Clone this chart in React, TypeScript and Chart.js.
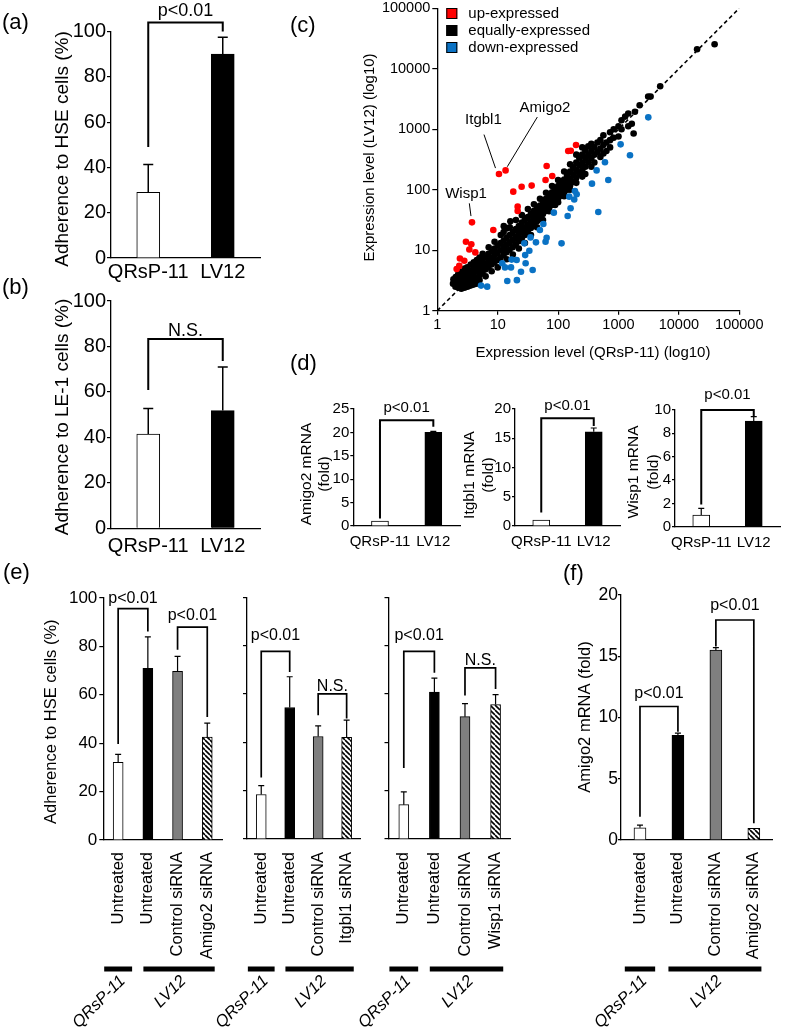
import React, { useEffect, useRef } from 'react';
import { Chart, registerables } from 'chart.js';

Chart.register(...registerables);

const FONT = "'Liberation Sans', Arial, Helvetica, sans-serif";
Chart.defaults.font.family = FONT;
Chart.defaults.color = '#000';

// ================= DATA =================
const cellLines = ['QRsP-11', 'LV12'];

// (a) adherence to HSE cells (%)
const adhesionHSE = [29, 90];
const adhesionHSEErr = [12.3, 7.5];
// (b) adherence to LE-1 cells (%)
const adhesionLE1 = [41.5, 51.8];
const adhesionLE1Err = [11.2, 19.2];

// (d) qPCR fold changes
const amigo2Fold = [1.07, 20.0];
const amigo2FoldErr = [0, 0.2];
const itgbl1Fold = [1.03, 16.1];
const itgbl1FoldErr = [0, 0.65];
const wisp1Fold = [1.0, 9.05];
const wisp1FoldErr = [0.57, 0.38];

// (e) siRNA adherence
const siAmigo2Labels = ['Untreated', 'Untreated', 'Control siRNA', 'Amigo2 siRNA'];
const siItgbl1Labels = ['Untreated', 'Untreated', 'Control siRNA', 'Itgbl1 siRNA'];
const siWisp1Labels = ['Untreated', 'Untreated', 'Control siRNA', 'Wisp1 siRNA'];
const siAmigo2Adh = [32.1, 70.9, 69.7, 42.5];
const siAmigo2AdhErr = [3.3, 13, 6.2, 5.8];
const siItgbl1Adh = [18.4, 54.4, 42.4, 42];
const siItgbl1AdhErr = [3.7, 12.7, 4.4, 7.2];
const siWisp1Adh = [14.2, 60.8, 50.6, 55.6];
const siWisp1AdhErr = [5.3, 5.7, 5.4, 4.1];

// (f) Amigo2 mRNA after siRNA
const siAmigo2mRNA = [1.0, 8.55, 15.5, 0.95];
const siAmigo2mRNAErr = [0.22, 0.18, 0.2, 0];

// significance brackets (values in axis units)
const bracketsA = [{ from: 0, to: 1, top: 104, leftEnd: 49, rightEnd: 100, text: 'p<0.01' }];
const bracketsB = [{ from: 0, to: 1, top: 83.3, leftEnd: 60.8, rightEnd: 73.6, text: 'N.S.' }];
const bracketsD1 = [{ from: 0, to: 1, top: 22.6, leftEnd: 1.6, rightEnd: 21.2, text: 'p<0.01' }];
const bracketsD2 = [{ from: 0, to: 1, top: 18.4, leftEnd: 2.3, rightEnd: 17.1, text: 'p<0.01' }];
const bracketsD3 = [{ from: 0, to: 1, top: 10.0, leftEnd: 1.9, rightEnd: 9.4, text: 'p<0.01' }];
const bracketsE1 = [
  { from: 0, to: 1, top: 95.6, leftEnd: 39.7, rightEnd: 86.2, text: 'p<0.01' },
  { from: 2, to: 3, top: 88, leftEnd: 78.6, rightEnd: 50.8, text: 'p<0.01' },
];
const bracketsE2 = [
  { from: 0, to: 1, top: 77.6, leftEnd: 25.4, rightEnd: 69.1, text: 'p<0.01' },
  { from: 2, to: 3, top: 60, leftEnd: 51.2, rightEnd: 49.8, text: 'N.S.' },
];
const bracketsE3 = [
  { from: 0, to: 1, top: 77.6, leftEnd: 29.4, rightEnd: 68.8, text: 'p<0.01' },
  { from: 2, to: 3, top: 70.8, leftEnd: 59.3, rightEnd: 62, text: 'N.S.' },
];
const bracketsF = [
  { from: 0, to: 1, top: 10.9, leftEnd: 1.9, rightEnd: 8.84, text: 'p<0.01' },
  { from: 2, to: 3, top: 17.96, leftEnd: 15.8, rightEnd: 1.36, text: 'p<0.01' },
];

// (c) scatter: [QRsP-11, LV12] expression levels
const decadeTicks = [1, 10, 100, 1000, 10000, 100000];
const upExpressed = [
  [10.5, 182], [13.5, 209], [3.75, 28.9], [198, 549], [147, 437], [162, 440], [64.6, 247], [80, 169],
  [62, 145], [36.5, 117], [24.9, 112], [18.1, 93], [21.4, 52.5], [21.4, 44.5], [8.46, 21.6], [2.98, 13.8],
  [3.66, 12.5], [3.39, 10.3], [4.26, 9.2], [2.37, 7.3], [2.8, 6.7], [2.09, 4.9], [2.31, 5.5],
];
const downExpressed = [
  [3113, 1575], [1084, 563], [1549, 371], [597, 284], [434, 209], [678, 145], [364, 126], [463, 42.8],
  [190, 95], [203, 84], [153, 76.8], [185, 69], [161, 49.3], [144, 36.8], [85, 41.8], [57, 27.1],
  [50, 21.6], [64.6, 16.1], [62, 13.8], [114, 13], [43, 13.5], [35, 16.3], [33.4, 9.8], [27.6, 13],
  [28.5, 8.3], [29, 6.1], [20.6, 6.9], [17, 7], [24.3, 4.4], [37.9, 4.7], [16.6, 5.2], [13.2, 5.2],
  [11.9, 6.1], [14.4, 3.1], [20.8, 3.2], [5.3, 2.6], [6.7, 2.5],
];
const equallyExpressed = [
  [1.82, 2.8], [1.85, 3.3], [2.0, 2.5], [1.98, 3.0], [2.02, 3.6],
  [2.24, 2.4], [2.2, 2.85], [2.26, 3.4], [2.22, 4.0],
  [2.5, 2.3], [2.55, 2.75], [2.48, 3.2], [2.52, 3.8], [2.5, 4.4],
  [2.82, 2.4], [2.8, 2.9], [2.86, 3.5], [2.78, 4.2], [2.84, 5.0],
  [3.16, 2.5], [3.2, 3.0], [3.1, 3.6], [3.18, 4.4], [3.14, 5.2],
  [3.55, 2.6], [3.5, 3.2], [3.6, 3.8], [3.52, 4.6], [3.58, 5.8],
  [3.98, 2.7], [4.05, 3.3], [3.95, 4.1], [4.0, 5.0], [4.02, 6.3],
  [4.47, 2.8], [4.4, 3.5], [4.5, 4.4], [4.45, 5.5], [4.52, 6.9],
  [5.0, 3.2], [5.05, 3.9], [4.95, 4.8], [5.02, 6.0], [5.0, 7.6],
  [5.6, 4.4], [5.66, 5.5], [5.58, 6.9], [5.64, 8.7],
  [6.31, 3.7], [6.25, 4.8], [6.35, 6.0], [6.3, 7.6],
  [7.0, 5.2], [7.12, 6.8], [7.05, 8.7], [7.1, 11.2],
  [7.94, 4.5], [7.9, 5.8], [8.0, 7.4], [7.96, 9.5],
  [8.85, 6.3], [8.95, 8.3], [8.9, 10.7], [8.88, 13.8],
  [10, 5.2], [10.1, 6.9], [9.9, 9.1], [10.05, 12],
  [11.1, 7.6], [11.3, 10], [11.2, 13.2], [11.25, 17.8],
  [12.5, 8.3], [12.7, 11], [12.6, 14.5], [12.55, 20], [12.6, 25],
  [14.1, 7.1], [14.0, 9.3], [14.2, 12.3], [14.1, 16.2], [14.4, 23],
  [15.7, 10.2], [15.9, 13.5], [15.8, 17.8], [15.85, 24], [16.2, 30],
  [17.8, 8.5], [17.7, 11.2], [17.9, 14.8], [17.8, 20],
  [19.9, 12.3], [20.1, 16.6], [20, 22.4], [20.05, 31.6],
  [22.4, 10.7], [22.3, 14.1], [22.5, 19], [22.4, 25],
  [25, 15.8], [25.2, 21.4], [25.1, 28.8], [25.15, 38],
  [28.2, 13.2], [28.1, 17.8], [28.3, 24], [28.2, 31.6],
  [31.5, 20], [31.7, 26.3], [31.6, 35.5], [31.65, 47.9],
  [35.5, 17.8], [35.4, 23.4], [35.6, 30.2], [35.5, 39.8],
  [39.7, 26.3], [39.9, 33.9], [39.8, 44.7], [39.85, 57.5],
  [44.7, 24], [44.6, 30.2], [44.8, 38], [44.7, 49],
  [50, 34.7], [50.2, 43.7], [50.1, 55], [50.15, 70.8],
  [56.2, 31.6], [56.1, 39.8], [56.3, 50], [56.2, 63],
  [63, 44.7], [63.2, 56.2], [63.1, 70.8], [63.15, 89],
  [70.8, 44], [70.7, 50], [70.9, 63], [70.8, 79.4],
  [79.3, 56.2], [79.5, 72.4], [79.4, 91], [79.45, 115],
  [89.1, 56], [89, 63], [89.2, 79.4], [89.1, 100],
  [100, 62], [99.8, 70.8], [100.2, 91], [100, 115], [100.1, 145],
  [111.8, 79.4], [112.2, 100], [112, 129],
  [126, 78], [125.8, 89], [126.2, 115], [126, 148], [126.1, 200],
  [140.8, 100], [141.2, 132], [141, 174],
  [158, 100], [157.8, 117], [158.2, 151], [158, 200], [158.1, 263],
  [177.8, 135], [178.2, 178], [178, 234],
  [200, 130], [199.8, 158], [200.2, 209], [200, 282], [200.1, 380],
  [223.8, 186], [224.2, 251], [224, 339],
  [251, 165], [250.8, 209], [251.2, 282], [251, 380], [251.1, 501],
  [282, 182], [281.8, 240], [282.2, 331], [282, 447],
  [315.8, 282], [316.2, 380], [316, 525],
  [355, 240], [354.8, 331], [355.2, 437], [355, 575],
  [398, 282], [397.8, 380], [398.2, 501],
  [446.8, 417], [447.2, 603],
  [501, 347], [500.8, 479], [501.2, 661],
  [562, 398], [561.8, 550], [562.2, 794],
  [631, 437], [630.8, 603],
  [725, 501], [724.8, 661], [725.2, 891],
  [832, 724], [831.8, 1000],
  [1000, 759], [999.8, 1122],
  [1122, 1000], [1121.8, 1413],
  [1290, 1620], [1450, 1820], [1450, 1122], [1660, 1230], [1780, 850], [1870, 1950],
  [2240, 2500], [3100, 3470], [3400, 3470], [4900, 5130], [20000, 21000], [39000, 25500],
];
const identityLine = [[1, 1], [100000, 100000]];
const geneNotes = [
  { name: 'Itgbl1', at: [5.8, 1445], from: [5.93, 817], to: [9.2, 228] },
  { name: 'Amigo2', at: [60.7, 2245], from: [45.3, 1592], to: [14.4, 240] },
  { name: 'Wisp1', at: [2.99, 85], from: [3.39, 59.6], to: [3.61, 36.7] },
];

// ================= LAYOUT =================
const RED = '#ff0000';
const BLUE = '#0a72c4';
const GRAY = '#7f7f7f';

type TextItem = { text: string; x: number; y: number; size: number; rotate?: boolean };

function drawText(ctx: any, t: TextItem, ox: number, oy: number) {
  ctx.save();
  ctx.font = `${t.size}px ${FONT}`;
  ctx.fillStyle = '#000';
  ctx.textAlign = 'center';
  ctx.textBaseline = 'middle';
  ctx.translate(t.x - ox, t.y - oy);
  if (t.rotate) ctx.rotate(-Math.PI / 2);
  ctx.fillText(t.text, 0, 0);
  ctx.restore();
}

const barPanels: any[] = [
  {
    canvas: [0, 0, 275, 295], area: [111, 31.5, 260, 258],
    labels: cellLines, values: adhesionHSE, errors: adhesionHSEErr, fills: ['white', 'black'],
    yMax: 100, yStep: 20, showY: true, tickSize: 20, tickLen: 4, tickPad: 1,
    catSize: 20, catPad: 2, rotate: false, barThickness: 23, cap: 5, errWidth: 1.5,
    brackets: bracketsA, gaps: [6.5], bracketSize: 18, bracketWidth: 2,
    titles: [{ text: 'Adherence to HSE cells (%)', x: 63, y: 149, size: 19, rotate: true }],
  },
  {
    canvas: [0, 280, 275, 565], area: [111, 301, 260, 528.3],
    labels: cellLines, values: adhesionLE1, errors: adhesionLE1Err, fills: ['white', 'black'],
    yMax: 100, yStep: 20, showY: true, tickSize: 20, tickLen: 4, tickPad: 1,
    catSize: 20, catPad: 6, rotate: false, barThickness: 23, cap: 5, errWidth: 1.5,
    brackets: bracketsB, gaps: [2.6], bracketSize: 18, bracketWidth: 2,
    titles: [{ text: 'Adherence to LE-1 cells (%)', x: 63, y: 417, size: 19, rotate: true }],
  },
  {
    canvas: [290, 385, 465, 565], area: [353.3, 409, 460, 526],
    labels: cellLines, values: amigo2Fold, errors: amigo2FoldErr, fills: ['white', 'black'],
    yMax: 25, yStep: 5, showY: true, tickSize: 15, tickLen: 3, tickPad: 1,
    catSize: 15, catPad: 7, rotate: false, barThickness: 17, cap: 3, errWidth: 1.2,
    brackets: bracketsD1, gaps: [8], bracketSize: 15, bracketWidth: 2,
    titles: [
      { text: 'Amigo2 mRNA', x: 306.7, y: 474, size: 15.5, rotate: true },
      { text: '(fold)', x: 325, y: 474, size: 15.5, rotate: true },
    ],
  },
  {
    canvas: [455, 385, 625, 565], area: [515, 409, 620, 526],
    labels: cellLines, values: itgbl1Fold, errors: itgbl1FoldErr, fills: ['white', 'black'],
    yMax: 20, yStep: 5, showY: true, tickSize: 15, tickLen: 3, tickPad: 1,
    catSize: 15, catPad: 7, rotate: false, barThickness: 17, cap: 3, errWidth: 1.2,
    brackets: bracketsD2, gaps: [8.8], bracketSize: 15, bracketWidth: 2,
    titles: [
      { text: 'Itgbl1 mRNA', x: 470, y: 475, size: 15.5, rotate: true },
      { text: '(fold)', x: 488.3, y: 475, size: 15.5, rotate: true },
    ],
  },
  {
    canvas: [620, 380, 787, 565], area: [675, 410, 780, 526.7],
    labels: cellLines, values: wisp1Fold, errors: wisp1FoldErr, fills: ['white', 'black'],
    yMax: 10, yStep: 2, showY: true, tickSize: 15, tickLen: 3, tickPad: 1,
    catSize: 15, catPad: 7, rotate: false, barThickness: 17, cap: 3, errWidth: 1.2,
    brackets: bracketsD3, gaps: [10.8], bracketSize: 15, bracketWidth: 2,
    titles: [
      { text: 'Wisp1 mRNA', x: 633.3, y: 472, size: 15.5, rotate: true },
      { text: '(fold)', x: 653.3, y: 472, size: 15.5, rotate: true },
    ],
  },
  {
    canvas: [0, 585, 240, 1031], area: [103.3, 598, 232.5, 840],
    labels: siAmigo2Labels, values: siAmigo2Adh, errors: siAmigo2AdhErr, fills: ['white', 'black', 'gray', 'hatch'],
    yMax: 100, yStep: 20, showY: true, tickSize: 17, tickLen: 4, tickPad: 2,
    catSize: 16.5, catPad: 12, rotate: true, barThickness: 10, cap: 3, errWidth: 1.2,
    brackets: bracketsE1, gaps: [5.4, 7.3], bracketSize: 16, bracketWidth: 1.7,
    titles: [{ text: 'Adherence to HSE cells (%)', x: 51.7, y: 721.7, size: 16.5, rotate: true }],
    groups: { y: 969, spans: [[-0.47, 0.47], [0.85, 3.25]] },
  },
  {
    canvas: [200, 585, 380, 1031], area: [247, 593, 375.5, 839],
    labels: siItgbl1Labels, values: siItgbl1Adh, errors: siItgbl1AdhErr, fills: ['white', 'black', 'gray', 'hatch'],
    yMax: 100, yStep: 20, showY: false, tickSize: 17, tickLen: 4, tickPad: 2,
    catSize: 16.5, catPad: 13, rotate: true, barThickness: 10, cap: 3, errWidth: 1.2,
    brackets: bracketsE2, gaps: [11.7, 3.4], bracketSize: 16, bracketWidth: 1.7,
    titles: [],
    groups: { y: 969, spans: [[-0.47, 0.47], [0.85, 3.25]] },
  },
  {
    canvas: [340, 585, 530, 1031], area: [388.5, 593, 517, 839],
    labels: siWisp1Labels, values: siWisp1Adh, errors: siWisp1AdhErr, fills: ['white', 'black', 'gray', 'hatch'],
    yMax: 100, yStep: 20, showY: false, tickSize: 17, tickLen: 4, tickPad: 2,
    catSize: 16.5, catPad: 13, rotate: true, barThickness: 10, cap: 3, errWidth: 1.2,
    brackets: bracketsE3, gaps: [11.7, 3.3], bracketSize: 16, bracketWidth: 1.7,
    titles: [],
    groups: { y: 969, spans: [[-0.47, 0.47], [0.85, 3.25]] },
  },
  {
    canvas: [560, 560, 787, 1031], area: [621, 595, 776, 840],
    labels: siAmigo2Labels, values: siAmigo2mRNA, errors: siAmigo2mRNAErr, fills: ['white', 'black', 'gray', 'hatch'],
    yMax: 20, yStep: 5, showY: true, tickSize: 17.5, tickLen: 3, tickPad: 0,
    catSize: 16.5, catPad: 12, rotate: true, barThickness: 12, cap: 3, errWidth: 1.2,
    brackets: bracketsF, gaps: [8.4, 10.4], bracketSize: 16, bracketWidth: 1.7,
    titles: [{ text: 'Amigo2 mRNA (fold)', x: 585, y: 717, size: 16.5, rotate: true }],
    groups: { y: 969, spans: [[-0.4, 0.4], [0.75, 3.2]] },
  },
];

const scatterLayout = { canvas: [290, -10, 787, 372], area: [437.3, 8.3, 739.3, 310.7] };

const panelLetters = [
  { text: '(a)', x: 2, y: 10.5 },
  { text: '(b)', x: 2, y: 275.5 },
  { text: '(c)', x: 290, y: 14 },
  { text: '(d)', x: 290, y: 352 },
  { text: '(e)', x: 3, y: 560.5 },
  { text: '(f)', x: 563, y: 562 },
];

function makeHatch(): any {
  const c = document.createElement('canvas');
  c.width = 5; c.height = 5;
  const g = c.getContext('2d')!;
  g.fillStyle = '#fff';
  g.fillRect(0, 0, 5, 5);
  g.strokeStyle = '#000';
  g.lineWidth = 1.6;
  g.beginPath();
  for (const k of [-5, 0, 5]) { g.moveTo(k, 0); g.lineTo(k + 5, 5); }
  g.stroke();
  return g.createPattern(c, 'repeat');
}

function barExtras(s: any) {
  return {
    id: 'barExtras',
    afterDraw(chart: any) {
      const ctx = chart.ctx;
      const xs = chart.scales.x, ys = chart.scales.y;
      const ox = s.canvas[0], oy = s.canvas[1];
      ctx.save();
      ctx.strokeStyle = '#000';
      ctx.fillStyle = '#000';
      // error bars (upper whisker)
      ctx.lineWidth = s.errWidth;
      s.values.forEach((v: number, i: number) => {
        const e = s.errors[i];
        if (!e) return;
        const px = xs.getPixelForValue(i);
        const y0 = ys.getPixelForValue(v), y1 = ys.getPixelForValue(v + e);
        ctx.beginPath();
        ctx.moveTo(px, y0); ctx.lineTo(px, y1);
        ctx.moveTo(px - s.cap, y1); ctx.lineTo(px + s.cap, y1);
        ctx.stroke();
      });
      // brackets
      ctx.lineWidth = s.bracketWidth;
      ctx.lineJoin = 'miter';
      ctx.font = `${s.bracketSize}px ${FONT}`;
      ctx.textAlign = 'center';
      ctx.textBaseline = 'alphabetic';
      s.brackets.forEach((b: any, k: number) => {
        const xl = xs.getPixelForValue(b.from), xr = xs.getPixelForValue(b.to);
        const yt = ys.getPixelForValue(b.top);
        ctx.beginPath();
        ctx.moveTo(xl, ys.getPixelForValue(b.leftEnd));
        ctx.lineTo(xl, yt);
        ctx.lineTo(xr, yt);
        ctx.lineTo(xr, ys.getPixelForValue(b.rightEnd));
        ctx.stroke();
        ctx.fillText(b.text, (xl + xr) / 2, yt - s.gaps[k]);
      });
      // axis titles
      s.titles.forEach((t: TextItem) => drawText(ctx, t, ox, oy));
      // cell-line group bars
      if (s.groups) {
        const gy = s.groups.y - oy;
        s.groups.spans.forEach((sp: number[], k: number) => {
          const xa = xs.getPixelForValue(sp[0]), xb = xs.getPixelForValue(sp[1]);
          ctx.fillRect(xa, gy - 2.5, xb - xa, 5);
          const cx = (xa + xb) / 2;
          ctx.save();
          ctx.font = `italic 16.5px ${FONT}`;
          ctx.textAlign = 'right';
          ctx.textBaseline = 'middle';
          ctx.translate(cx + 4.5, gy + 9.5);
          ctx.rotate(-Math.PI / 4);
          ctx.fillText(cellLines[k], 0, 0);
          ctx.restore();
        });
      }
      ctx.restore();
    },
  };
}

function makeBarChart(canvas: HTMLCanvasElement, s: any, hatch: any) {
  const [cl, ct, cr, cb] = s.canvas;
  const [al, at, ar, ab] = s.area;
  const fillOf = (f: string) => (f === 'hatch' ? hatch : f === 'gray' ? GRAY : f === 'black' ? '#000' : '#fff');
  return new Chart(canvas, {
    type: 'bar',
    data: {
      labels: s.labels,
      datasets: [{
        data: s.values,
        backgroundColor: s.fills.map(fillOf),
        borderColor: '#000',
        borderWidth: 1,
        barThickness: s.barThickness,
      }],
    },
    options: {
      responsive: false,
      animation: false,
      devicePixelRatio: 1,
      events: [],
      layout: { padding: { left: 0, top: at - ct, right: cr - ar, bottom: 0 } },
      plugins: { legend: { display: false }, tooltip: { enabled: false } },
      scales: {
        x: {
          grid: { display: false, drawTicks: false },
          border: { display: true, color: '#000', width: 1.3 },
          ticks: {
            color: '#000', font: { family: FONT, size: s.catSize }, padding: s.catPad,
            maxRotation: s.rotate ? 90 : 0, minRotation: s.rotate ? 90 : 0, autoSkip: false,
          },
          afterFit: (sc: any) => { sc.height = cb - ab; },
        },
        y: {
          min: 0, max: s.yMax,
          grid: { drawOnChartArea: false, drawTicks: true, tickLength: s.tickLen, color: '#000', lineWidth: 1.2 },
          border: { display: true, color: '#000', width: 1.3 },
          ticks: {
            stepSize: s.yStep, color: '#000', font: { family: FONT, size: s.tickSize }, padding: s.tickPad,
            callback: s.showY ? (v: any) => String(v) : () => '',
          },
          afterFit: (sc: any) => { sc.width = al - cl; },
        },
      },
    } as any,
    plugins: [barExtras(s)],
  });
}

function makeScatter(canvas: HTMLCanvasElement) {
  const [cl, ct, cr, cb] = scatterLayout.canvas;
  const [al, at, ar, ab] = scatterLayout.area;
  const toPts = (arr: number[][]) => arr.map(([x, y]) => ({ x, y }));
  const extras = {
    id: 'scatterExtras',
    afterDraw(chart: any) {
      const ctx = chart.ctx;
      const xs = chart.scales.x, ys = chart.scales.y;
      const ca = chart.chartArea;
      ctx.save();
      // gene annotations
      ctx.strokeStyle = '#000';
      ctx.lineWidth = 1;
      geneNotes.forEach((n) => {
        ctx.beginPath();
        ctx.moveTo(xs.getPixelForValue(n.from[0]), ys.getPixelForValue(n.from[1]));
        ctx.lineTo(xs.getPixelForValue(n.to[0]), ys.getPixelForValue(n.to[1]));
        ctx.stroke();
        ctx.font = `15px ${FONT}`;
        ctx.fillStyle = '#000';
        ctx.textAlign = 'center';
        ctx.textBaseline = 'middle';
        ctx.fillText(n.name, xs.getPixelForValue(n.at[0]), ys.getPixelForValue(n.at[1]));
      });
      // legend
      const items = chart.data.datasets.slice(0, 3);
      items.forEach((d: any, k: number) => {
        const cy = ca.top + 5.2 + k * 17;
        const bx = ca.left + 9;
        ctx.fillStyle = d.backgroundColor;
        ctx.fillRect(bx, cy - 5.5, 11, 11);
        ctx.strokeStyle = '#000';
        ctx.lineWidth = 1;
        ctx.strokeRect(bx + 0.5, cy - 5, 10, 10);
        ctx.fillStyle = '#000';
        ctx.font = `15px ${FONT}`;
        ctx.textAlign = 'left';
        ctx.textBaseline = 'middle';
        ctx.fillText(d.label, bx + 22, cy + 0.5);
      });
      // axis titles
      drawText(ctx, { text: 'Expression level (LV12) (log10)', x: 370, y: 157.5, size: 15, rotate: true }, cl, ct);
      drawText(ctx, { text: 'Expression level (QRsP-11) (log10)', x: 593, y: 353.3, size: 15 }, cl, ct);
      ctx.restore();
    },
  };
  const axisCommon = (size: number) => ({
    type: 'logarithmic',
    min: 1,
    max: 100000,
    afterBuildTicks: (sc: any) => { sc.ticks = decadeTicks.map((v) => ({ value: v })); },
    border: { display: true, color: '#000', width: 1.3 },
    ticks: { callback: (v: any) => String(v), color: '#000', font: { family: FONT, size }, autoSkip: false, maxRotation: 0 },
  });
  return new Chart(canvas, {
    type: 'scatter',
    data: {
      datasets: [
        { label: 'up-expressed', data: toPts(upExpressed), backgroundColor: RED, pointRadius: 3.3, borderWidth: 0, order: 0 },
        { label: 'equally-expressed', data: toPts(equallyExpressed), backgroundColor: '#000', pointRadius: 3.3, borderWidth: 0, order: 2 },
        { label: 'down-expressed', data: toPts(downExpressed), backgroundColor: BLUE, pointRadius: 3.3, borderWidth: 0, order: 1 },
        {
          label: 'identity', data: toPts(identityLine), showLine: true, borderColor: '#000', borderWidth: 1.6,
          borderDash: [4, 3], pointRadius: 0, backgroundColor: '#000', order: 3,
        },
      ],
    },
    options: {
      responsive: false,
      animation: false,
      devicePixelRatio: 1,
      events: [],
      layout: { padding: { left: 0, top: at - ct, right: cr - ar, bottom: 0 } },
      plugins: { legend: { display: false }, tooltip: { enabled: false } },
      scales: {
        x: {
          ...axisCommon(14.5),
          grid: { drawOnChartArea: false, drawTicks: true, tickLength: 4, color: '#000', lineWidth: 1.2 },
          ticks: { ...axisCommon(14.5).ticks, padding: 2 },
          afterFit: (sc: any) => { sc.height = cb - ab; },
        },
        y: {
          ...axisCommon(14.5),
          grid: { drawOnChartArea: false, drawTicks: true, tickLength: 5, color: '#000', lineWidth: 1.2 },
          ticks: { ...axisCommon(14.5).ticks, padding: 2 },
          afterFit: (sc: any) => { sc.width = al - cl; },
        },
      },
    } as any,
    plugins: [extras],
  });
}

export default function App() {
  const refs = useRef<(HTMLCanvasElement | null)[]>([]);
  const scatterRef = useRef<HTMLCanvasElement | null>(null);

  useEffect(() => {
    document.body.style.margin = '0';
    const hatch = makeHatch();
    const charts: Chart[] = [];
    barPanels.forEach((p, i) => {
      const c = refs.current[i];
      if (c) charts.push(makeBarChart(c, p, hatch));
    });
    if (scatterRef.current) charts.push(makeScatter(scatterRef.current));
    return () => charts.forEach((ch) => ch.destroy());
  }, []);

  const sc = scatterLayout.canvas;
  return (
    <div style={{ position: 'relative', width: 787, height: 1031, background: '#fff', overflow: 'hidden' }}>
      {barPanels.map((p, i) => (
        <canvas
          key={i}
          ref={(el) => { refs.current[i] = el; }}
          width={p.canvas[2] - p.canvas[0]}
          height={p.canvas[3] - p.canvas[1]}
          style={{ position: 'absolute', left: p.canvas[0], top: p.canvas[1] }}
        />
      ))}
      <canvas
        ref={scatterRef}
        width={sc[2] - sc[0]}
        height={sc[3] - sc[1]}
        style={{ position: 'absolute', left: sc[0], top: sc[1] }}
      />
      {panelLetters.map((l) => (
        <div
          key={l.text}
          style={{
            position: 'absolute', left: l.x, top: l.y, fontFamily: FONT, fontSize: 22,
            lineHeight: '22px', color: '#000', whiteSpace: 'nowrap',
          }}
        >
          {l.text}
        </div>
      ))}
    </div>
  );
}
